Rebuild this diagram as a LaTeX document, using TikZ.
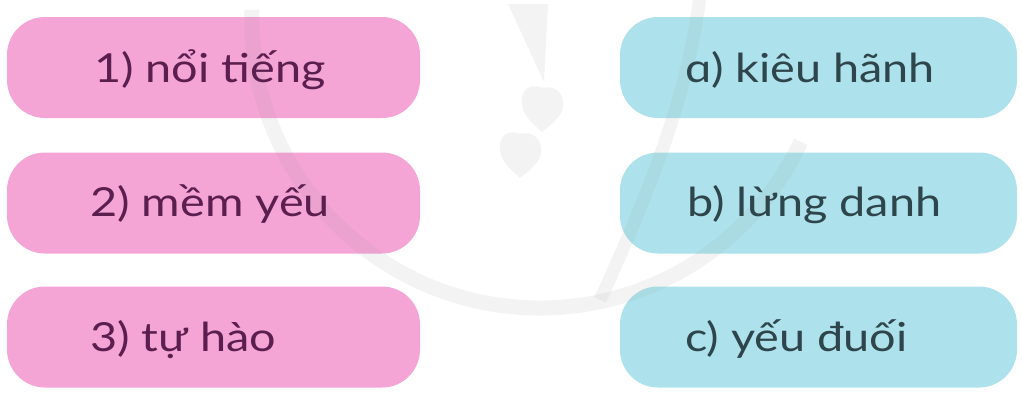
\documentclass[tikz,border=0pt]{standalone}
\usepackage{fontspec}
\setmainfont[FakeStretch=1.17]{Lato}
\definecolor{pinkfill}{HTML}{F5A4D6}
\definecolor{cyanfill}{HTML}{ADE2EC}
\definecolor{pinktext}{HTML}{5A1F4F}
\definecolor{cyantext}{HTML}{2E454B}
\definecolor{wmark}{HTML}{9A9A9A}
\tikzset{
  card/.style={rounded corners=38pt, minimum height=101pt, inner sep=0pt, draw=none},
  lcard/.style={card, fill=pinkfill, minimum width=413pt},
  rcard/.style={card, fill=cyanfill, minimum width=397pt},
  word/.style={anchor=base west, inner sep=0pt, font=\fontsize{40}{48}\selectfont},
  lword/.style={word, text=pinktext},
  rword/.style={word, text=cyantext},
  wm/.style={wmark, opacity=0.11}
}
\begin{document}
\begin{tikzpicture}[x=1pt,y=-1pt]
\useasboundingbox (0,0) rectangle (1022,394);
\fill[white] (0,0) rectangle (1022,394);
% cards
\node[lcard] (l1) at (213.5,67.5) {};
\node[lcard] (l2) at (213.5,203) {};
\node[lcard] (l3) at (213.5,337) {};
\node[rcard] (r1) at (818.5,67.5) {};
\node[rcard] (r2) at (818.5,203) {};
\node[rcard] (r3) at (818.5,337) {};
% faint watermark
\begin{scope}
\clip (0,0) rectangle (1022,394);
\draw[wm, line width=15pt] (252,10) arc[start angle=182, end angle=25, radius=288];
\draw[wm, line width=13pt] (700,-5) .. controls (690,80) and (660,170) .. (600,300);
\end{scope}
\fill[wm] (508,4) -- (548,4) -- (544,82) -- cycle;
\fill[wm] (542,88) .. controls (528,82) and (520,92) .. (522,105) .. controls (524,118) and (536,126) .. (542,132) .. controls (552,124) and (566,114) .. (563,100) .. controls (560,88) and (550,86) .. (542,88) -- cycle;
\fill[wm] (520,134) .. controls (506,128) and (498,138) .. (500,151) .. controls (502,164) and (514,172) .. (520,178) .. controls (530,170) and (544,160) .. (541,146) .. controls (538,134) and (528,132) .. (520,134) -- cycle;
% texts
\node[lword] (t1) at (94,82) {1) nổi tiếng};
\node[lword] (t2) at (90,216) {2) mềm yếu};
\node[lword] (t3) at (90,351) {3) tự hào};
\node[rword] (ta) at (685,82) {ɑ) kiêu hãnh};
\node[rword] (tb) at (687,216) {b) lừng danh};
\node[rword] (tc) at (685,351) {c) yếu đuối};
\end{tikzpicture}
\end{document}
